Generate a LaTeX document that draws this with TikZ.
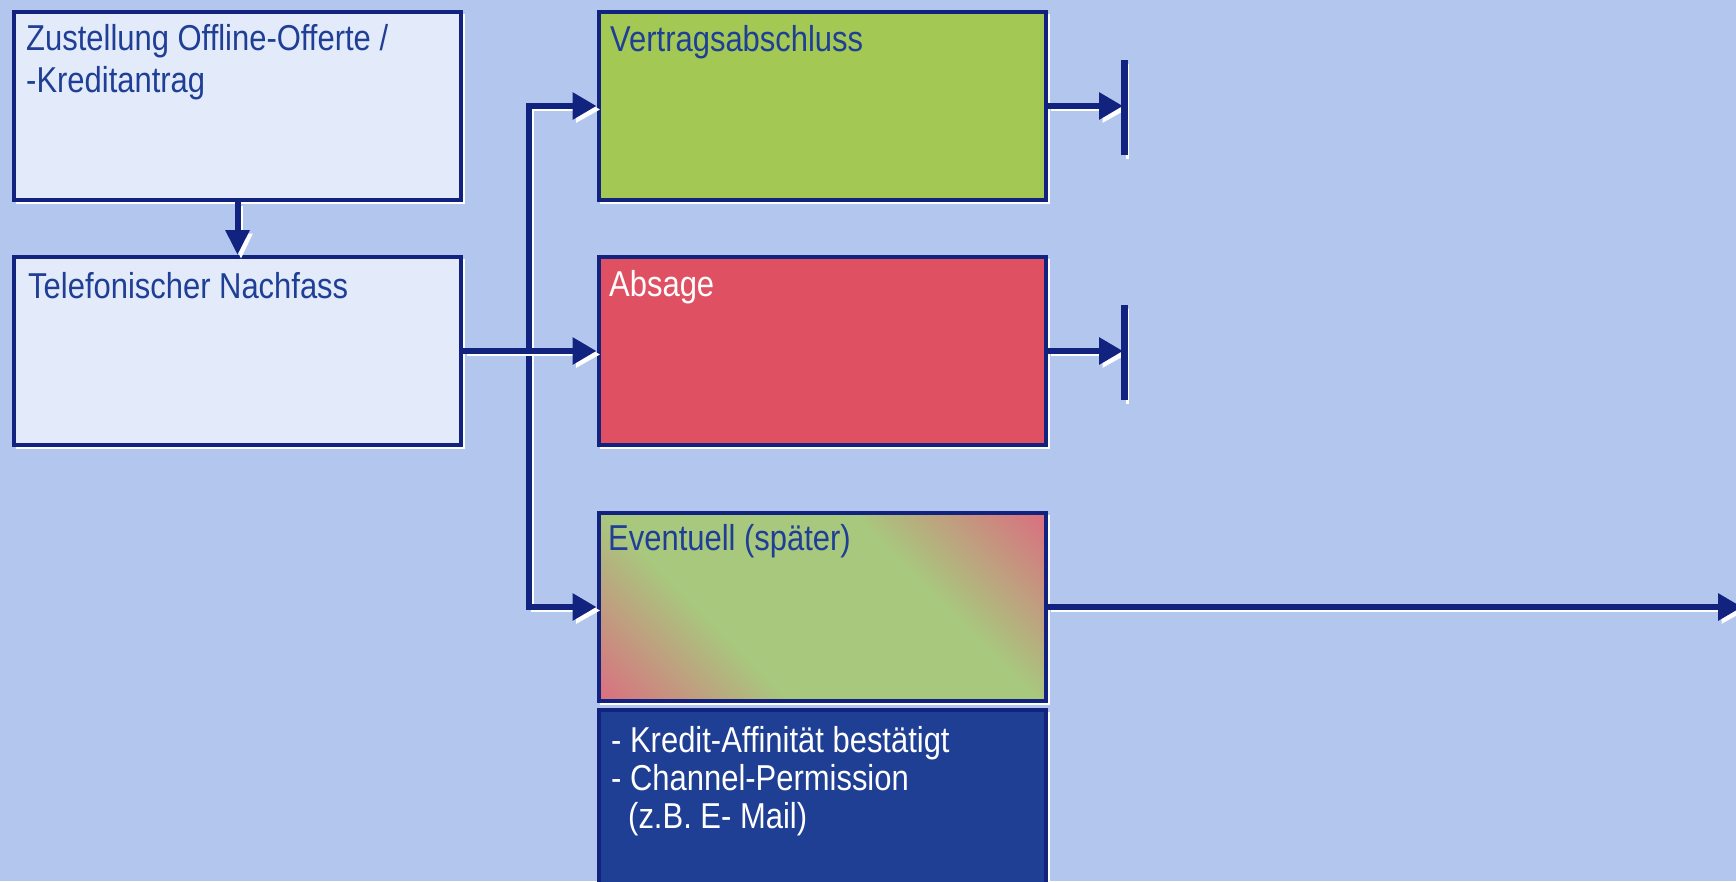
\documentclass[tikz,border=0pt]{standalone}
\usepackage{fontspec}
\setmainfont{Liberation Sans}[FakeStretch=0.86]
\usetikzlibrary{arrows.meta,calc}
\definecolor{bgc}{HTML}{B3C6EE}
\definecolor{lightbox}{HTML}{E3EAF9}
\definecolor{navy}{HTML}{12237F}
\definecolor{greenc}{HTML}{A3C854}
\definecolor{redc}{HTML}{E05063}
\definecolor{bluec}{HTML}{1F3F95}
\definecolor{textblue}{HTML}{1F3F96}
\definecolor{evred}{HTML}{DA7080}
\definecolor{evgreen}{HTML}{A8C87E}
\pgfdeclarehorizontalshading{evtshade}{100bp}{color(0bp)=(evred); color(15bp)=(evred); color(36bp)=(evgreen); color(64bp)=(evgreen); color(85bp)=(evred); color(100bp)=(evred)}
\tikzset{
  boxstyle/.style={draw=navy, line width=4pt, minimum width=447pt, minimum height=188pt, inner sep=0pt,
    preaction={draw=white, line width=2.5pt, transform canvas={xshift=3pt,yshift=-3pt}}},
  conn/.style={draw=navy, line width=6pt, line join=miter,
    preaction={draw=white, line width=3pt, transform canvas={xshift=3.5pt,yshift=-3.5pt}}},
  tip/.style={-{Triangle[length=24pt,width=26pt]}},
  txt/.style={anchor=base west, inner sep=0pt, align=left},
}
\begin{document}
\begin{tikzpicture}[x=1pt,y=-1pt]
\useasboundingbox[fill=bgc] (0,0) rectangle (1736,881);
% boxes
\node[boxstyle, fill=lightbox] (b1) at (237.5,106) {};
\node[boxstyle, fill=lightbox] (b2) at (237.5,351) {};
\node[boxstyle, fill=greenc] (v) at (822,106) {};
\node[boxstyle, fill=redc] (a) at (822,351) {};
\node[boxstyle, shading=evtshade, shading angle=45] (e) at (822,607) {};
\node[boxstyle, fill=bluec, minimum height=200pt] (k) at (822,810) {};
% texts
\node[txt, text=textblue, font=\fontsize{36}{42}\selectfont] (t1) at (26,92) {Zustellung Offline-Offerte /\\-Kreditantrag};
\node[txt, text=textblue, font=\fontsize{36}{42}\selectfont] (t2) at (28,298) {Telefonischer Nachfass};
\node[txt, text=textblue, font=\fontsize{36}{42}\selectfont] (t3) at (610,51) {Vertragsabschluss};
\node[txt, text=white, font=\fontsize{36}{42}\selectfont] (t4) at (609,296) {Absage};
\node[txt, text=textblue, font=\fontsize{36}{42}\selectfont] (t5) at (608,550) {Eventuell (später)};
\node[txt, text=white, font=\fontsize{36}{38}\selectfont] (t6) at (611,828) {- Kredit-Affinität bestätigt\\- Channel-Permission\\\hspace*{17pt}(z.B. E- Mail)};
% coordinates
\coordinate (jtop) at (529,106);
\coordinate (jbot) at (529,607);
\coordinate (end1) at (1123,106);
\coordinate (end2) at (1123,351);
\coordinate (bar1t) at (1124,60);
\coordinate (bar1b) at (1124,155);
\coordinate (bar2t) at (1124,305);
\coordinate (bar2b) at (1124,400);
\coordinate (far) at (1742,607);
% connectors
\draw[conn, -{Triangle[length=25pt,width=23pt]}] (b1.south) -- (b2.north);
\draw[conn, {Triangle[length=24pt,width=26pt]}-{Triangle[length=24pt,width=26pt]}] (v.west) -- (jtop) -- (jbot) -- (e.west);
\draw[conn, tip] (b2.east) -- (a.west);
\draw[conn, tip] (v.east) -- (end1);
\draw[conn, tip] (a.east) -- (end2);
\draw[conn, line width=7pt] (bar1t) -- (bar1b);
\draw[conn, line width=7pt] (bar2t) -- (bar2b);
\draw[conn, tip] (e.east) -- (far);
\end{tikzpicture}
\end{document}
